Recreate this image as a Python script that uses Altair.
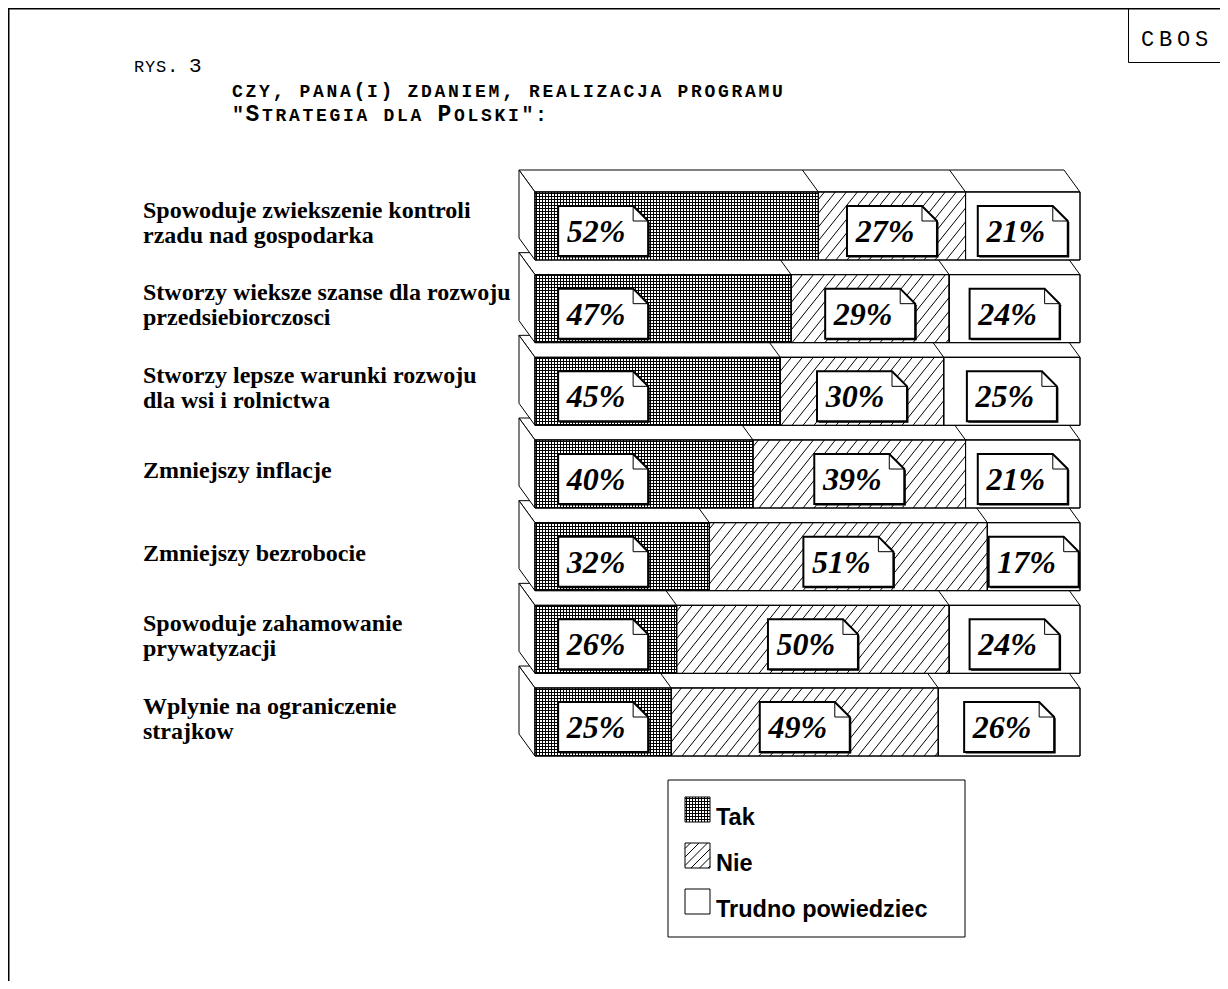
import altair as alt
import pandas as pd
import numpy as np

# ------------------------------------------------------------------ data
categories = [
    "Spowoduje zwiekszenie kontroli\nrzadu nad gospodarka",
    "Stworzy wieksze szanse dla rozwoju\nprzedsiebiorczosci",
    "Stworzy lepsze warunki rozwoju\ndla wsi i rolnictwa",
    "Zmniejszy inflacje",
    "Zmniejszy bezrobocie",
    "Spowoduje zahamowanie\nprywatyzacji",
    "Wplynie na ograniczenie\nstrajkow",
]
tak = [52, 47, 45, 40, 32, 26, 25]
nie = [27, 29, 30, 39, 51, 50, 49]
trudno = [21, 24, 25, 21, 17, 24, 26]
series_names = ["Tak", "Nie", "Trudno powiedziec"]
title_lines = ["rys. 3", "czy, pana(i) zdaniem, realizacja programu", '"Strategia dla Polski":']
corner_label = "CBOS"

# ------------------------------------------------------------------ geometry (chart px)
W, H = 1212, 973
X0, X1 = 527.0, 1072.0        # pixel of 0 % and 100 %
Y0, DY = 184.0, 82.67         # pixel of first bar's front top, row pitch
FH = 68.0                     # front face height
DXD, DYD = 16.0, 22.0         # 3D depth (up-left)
PXPCT = (X1 - X0) / 100.0


def ux(px):
    return (px - X0) / PXPCT


def uy(py):
    return (py - Y0) / DY


def px_x(u):
    return X0 + u * PXPCT


def px_y(r):
    return Y0 + r * DY


xs = alt.Scale(domain=[ux(0), ux(W)], nice=False, zero=False)
ys = alt.Scale(domain=[uy(0), uy(H)], nice=False, zero=False, reverse=True)


def X(f="x"):
    return alt.X(f, type="quantitative", scale=xs, axis=None, stack=None)


def Y(f="y"):
    return alt.Y(f, type="quantitative", scale=ys, axis=None, stack=None)


n = len(categories)
du_x, du_y, fh = DXD / PXPCT, DYD / DY, FH / DY

# segments
seg_rows = []
for i, vals in enumerate(zip(tak, nie, trudno)):
    start = 0
    for s, v in enumerate(vals):
        end = start + v
        mid = (start + end) / 2
        lx = min(mid, 12.5) if s == 0 else mid
        seg_rows.append(dict(row=i, series=series_names[s], x=start, x2=end, y=i, y2=i + fh,
                             lx=lx, ly=i + 39 / DY, label=f"{v}%"))
        start = end
seg = pd.DataFrame(seg_rows)
totals = [a + b + c for a, b, c in zip(tak, nie, trudno)]

top = pd.DataFrame(
    [dict(row=i, y=i - du_y, x=-du_x, x2=totals[i] - du_x) for i in range(n)]
    + [dict(row=i, y=i, x=0.0, x2=totals[i]) for i in range(n)]
)
side = pd.DataFrame(
    [dict(row=i, x=-du_x, y=i - du_y, y2=i - du_y + fh) for i in range(n)]
    + [dict(row=i, x=0.0, y=i, y2=i + fh) for i in range(n)]
)
div_rows = []
for i in range(n):
    for c in (tak[i], tak[i] + nie[i]):
        div_rows.append(dict(x=c, y=i, x2=c - du_x, y2=i - du_y))
div = pd.DataFrame(div_rows)


# ------------------------------------------------------------------ texture helpers (px -> data)
def crosshatch(xa, xb, ya, yb, step=3.0):
    out = []
    p = np.floor(xa) + 1.5
    while p < xb - 0.5:
        out.append((p, ya, p, yb))
        p += step
    p = np.floor(ya) + 1.5
    while p < yb - 0.5:
        out.append((xa, p, xb, p))
        p += step
    return out


def hatch(xa, xb, ya, yb, step=11.0, k=1.25):
    out = []
    hgt = yb - ya
    L = hgt / k
    c = np.floor((xa - L) / step) * step + 3
    while c < xb:
        t0 = max(0.0, (xa - c) / L)
        t1 = min(1.0, (xb - c) / L)
        if t1 - t0 > 1e-6:
            out.append((c + t0 * L, yb - t0 * hgt, c + t1 * L, yb - t1 * hgt))
        c += step
    return out


tex = []
for i in range(n):
    ya, yb = px_y(i), px_y(i) + FH
    tex += crosshatch(px_x(0), px_x(tak[i]), ya, yb)
    tex += hatch(px_x(tak[i]), px_x(tak[i] + nie[i]), ya, yb)

# legend geometry (chart px)
LG_BOX = (660, 772, 957, 929)
LG_SW_X = (677, 702)
LG_Y0, LG_PITCH, LG_SW = 789, 46, 25
leg_rows = []
for k, name in enumerate(series_names):
    y_top = LG_Y0 + k * LG_PITCH
    leg_rows.append(dict(name=name, x=ux(LG_SW_X[0]), x2=ux(LG_SW_X[1]), y=uy(y_top),
                         y2=uy(y_top + LG_SW), tx=ux(708), ty=uy(y_top + LG_SW + 3)))
    if k == 0:
        tex += crosshatch(LG_SW_X[0], LG_SW_X[1], y_top, y_top + LG_SW)
    elif k == 1:
        tex += hatch(LG_SW_X[0], LG_SW_X[1], y_top, y_top + LG_SW, step=8.5, k=1.0)
leg = pd.DataFrame(leg_rows)
texdf = pd.DataFrame([dict(x=ux(a), y=uy(b), x2=ux(c), y2=uy(d)) for a, b, c, d in tex])
legbox = pd.DataFrame([dict(x=ux(LG_BOX[0]), x2=ux(LG_BOX[2]), y=uy(LG_BOX[1]), y2=uy(LG_BOX[3]))])

# category labels (first line position so that the block is centred)
CAT_LH = 25
cat = pd.DataFrame([
    dict(label=c, x=ux(135), y=i + (31 - (c.count("\n")) * CAT_LH / 2) / DY)
    for i, c in enumerate(categories)
])


# ------------------------------------------------------------------ per-character title text (small caps)
def char_rows(text, x0, base, adv_s, adv_b, size_s, size_b):
    out = []
    x = x0
    for ch in text:
        if ch.islower():
            out.append(dict(ch=ch.upper(), x=ux(x), y=uy(base), size=size_s))
            x += adv_s
        elif ch == " ":
            x += adv_s
        else:
            big = ch.isupper() or ch.isdigit()
            out.append(dict(ch=ch, x=ux(x), y=uy(base), size=size_b if big else size_s + 2))
            x += adv_b if big else adv_s
    return out


title_norm = pd.DataFrame(
    char_rows(title_lines[0], 126, 64, 11, 11, 17, 21)
    + char_rows(corner_label, 1133, 38, 18, 18, 21, 22)
)
title_bold = pd.DataFrame(
    char_rows(title_lines[1], 224, 89, 13.5, 16.5, 18, 23)
    + char_rows(title_lines[2], 224, 113, 13.5, 16.5, 18, 23)
)

# ------------------------------------------------------------------ layers
BOX = "M-1,-0.556L0.667,-0.556L1,-0.222L1,0.556L-1,0.556Z"
FOLD = "M0.667,-0.556L0.667,-0.222L1,-0.222"

one = pd.DataFrame({"a": [0]})
frame_l = alt.Chart(one).mark_rule(color="black", strokeWidth=1.5).encode(
    x=alt.value(0.75), y=alt.value(0), y2=alt.value(H))
frame_t = alt.Chart(one).mark_rule(color="black", strokeWidth=1.5).encode(
    y=alt.value(0.75), x=alt.value(0), x2=alt.value(W))
cb_v = alt.Chart(one).mark_rule(color="black", strokeWidth=1).encode(
    x=alt.value(1120.5), y=alt.value(0), y2=alt.value(54.5))
cb_h = alt.Chart(one).mark_rule(color="black", strokeWidth=1).encode(
    y=alt.value(54.5), x=alt.value(1120.5), x2=alt.value(W))

top_l = alt.Chart(top).mark_area(orient="horizontal", fill="white", stroke="black", strokeWidth=1,
                                 opacity=1).encode(y=Y("y"), x=X("x"), x2="x2", detail="row:N")
side_l = alt.Chart(side).mark_area(orient="vertical", fill="white", stroke="black", strokeWidth=1,
                                   opacity=1).encode(x=X("x"), y=Y("y"), y2="y2", detail="row:N")
div_l = alt.Chart(div).mark_rule(color="black", strokeWidth=1).encode(x=X("x"), y=Y("y"), x2="x2", y2="y2")
front_l = alt.Chart(seg).mark_rect(fill="white", stroke="black", strokeWidth=1).encode(
    x=X("x"), x2="x2", y=Y("y"), y2="y2")
tex_l = alt.Chart(texdf).mark_rule(color="black", strokeWidth=1).encode(x=X("x"), y=Y("y"), x2="x2", y2="y2")
front_o = alt.Chart(seg).mark_rect(fill=None, stroke="black", strokeWidth=1).encode(
    x=X("x"), x2="x2", y=Y("y"), y2="y2")
shadow_l = alt.Chart(seg).mark_point(shape=BOX, filled=True, fill="black", strokeWidth=0,
                                     size=8100, opacity=1, xOffset=1.5, yOffset=1.5).encode(
    x=X("lx"), y=Y("ly"))
box_l = alt.Chart(seg).mark_point(shape=BOX, filled=True, fill="white", stroke="black", strokeWidth=2,
                                  size=8100, opacity=1).encode(x=X("lx"), y=Y("ly"))
fold_l = alt.Chart(seg).mark_point(shape=FOLD, filled=False, stroke="black", strokeWidth=1,
                                   size=8100, opacity=1).encode(x=X("lx"), y=Y("ly"))
pct_l = alt.Chart(seg).mark_text(font="Liberation Serif", fontWeight="bold", fontStyle="italic",
                                 fontSize=32, color="black", dx=-7, dy=1, baseline="middle").encode(
    x=X("lx"), y=Y("ly"), text="label:N")
cat_l = alt.Chart(cat).mark_text(font="Liberation Serif", fontWeight="bold", fontSize=24, color="black",
                                 align="left", baseline="middle", lineBreak="\n", lineHeight=CAT_LH).encode(
    x=X("x"), y=Y("y"), text="label:N")

legbox_l = alt.Chart(legbox).mark_rect(fill="white", stroke="black", strokeWidth=1).encode(
    x=X("x"), x2="x2", y=Y("y"), y2="y2")
legsw_l = alt.Chart(leg).mark_rect(fill="white", stroke="black", strokeWidth=1).encode(
    x=X("x"), x2="x2", y=Y("y"), y2="y2")
legtx_l = alt.Chart(leg).mark_text(font="Liberation Sans", fontWeight="bold", fontSize=23.5, color="black",
                                   align="left", baseline="alphabetic").encode(
    x=X("tx"), y=Y("ty"), text="name:N")

tn_l = alt.Chart(title_norm).mark_text(font="Liberation Mono", color="black", align="left",
                                       baseline="alphabetic").encode(
    x=X("x"), y=Y("y"), text="ch:N", size=alt.Size("size:Q", scale=None))
tb_l = alt.Chart(title_bold).mark_text(font="Liberation Mono", fontWeight="bold", color="black",
                                       align="left", baseline="alphabetic").encode(
    x=X("x"), y=Y("y"), text="ch:N", size=alt.Size("size:Q", scale=None))

chart = alt.layer(
    frame_l, frame_t, cb_v, cb_h,
    top_l, side_l, div_l,
    front_l, legbox_l, legsw_l, tex_l, front_o,
    shadow_l, box_l, fold_l, pct_l, cat_l, legtx_l, tn_l, tb_l,
).properties(
    width=W, height=H, padding=0, autosize=alt.AutoSizeParams(type="none"), background="white"
).configure_view(stroke=None)

chart.save("out.html", embed_options={"renderer": "svg", "actions": False})
